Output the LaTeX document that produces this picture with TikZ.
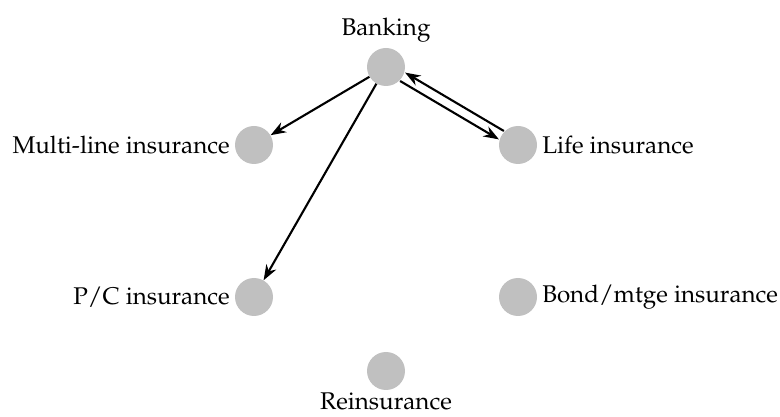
\documentclass[tikz,border=0pt]{standalone}
\usepackage[T1]{fontenc}
\usepackage{mathpazo}
\usepackage{xcolor}
\usepackage{tikz}
\usetikzlibrary{arrows.meta,positioning}
\definecolor{dotgray}{HTML}{C0C0C0}
\tikzset{
  firm/.style={circle, fill=dotgray, minimum size=0.95cm, inner sep=0pt, label distance=1pt},
  arr/.style={-{Stealth[length=11pt,width=8pt]}, line width=1.5pt, draw=black}
}

\begin{document}
\begin{tikzpicture}[node distance=1.95cm and 3.3cm, on grid, font=\fontsize{17.2}{20}\selectfont]
  \useasboundingbox (0,0) rectangle (19.5,-10.425);
  \node[firm, label=above:Banking] (bank) at (9.65,-1.675) {};
  \node[firm, below left=of bank, label=left:Multi-line insurance] (multi) {};
  \node[firm, below right=of bank, label=right:Life insurance] (life) {};
  \node[firm, below=3.8cm of multi, label=left:P/C insurance] (pc) {};
  \node[firm, below=3.8cm of life, label=right:Bond/mtge insurance] (bond) {};
  \node[firm, below=7.6cm of bank, label={[label distance=-2pt]below:Reinsurance}] (reins) {};

  % arrows from banking
  \draw[arr] (bank) -- (multi);
  \draw[arr] (bank) -- (pc);
  \draw[arr, transform canvas={shift={(-0.062,-0.105)}}] (bank) -- (life);

  % arrow back from life
  \draw[arr, transform canvas={shift={(0.062,0.105)}}] (life) -- (bank);
\end{tikzpicture}
\end{document}
